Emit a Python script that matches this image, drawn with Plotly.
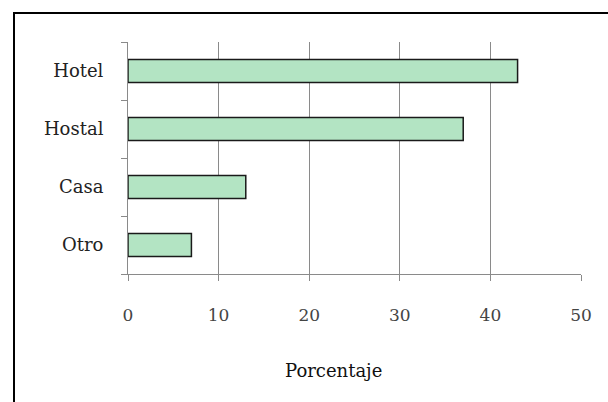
import plotly.graph_objects as go

# Lugar de hospedaje (porcentaje)
categorias = ["Hotel", "Hostal", "Casa", "Otro"]
porcentajes = [43, 37, 13, 7]
ticks_x = [0, 10, 20, 30, 40, 50]

W, H = 608, 402
L, R, T, B = 128, 27, 42, 128
pw, ph = W - L - R, H - T - B


def px_x(p):
    return (p - L) / pw


def px_y(p):
    return (H - B - p) / ph


serif = "DejaVu Serif"

fig = go.Figure(
    go.Bar(
        x=porcentajes,
        y=categorias,
        orientation="h",
        width=0.4,
        marker=dict(color="#b3e4c3", line=dict(color="#1a1a1a", width=1.5)),
    )
)

fig.update_layout(
    width=W,
    height=H,
    margin=dict(l=L, r=R, t=T, b=B),
    paper_bgcolor="white",
    plot_bgcolor="white",
    showlegend=False,
    font=dict(family=serif, size=17, color="#222"),
    xaxis=dict(
        range=[0, 50],
        tickvals=ticks_x,
        showgrid=True,
        gridcolor="#8a8a8a",
        gridwidth=1,
        zeroline=False,
        showline=True,
        linecolor="#8a8a8a",
        linewidth=1,
        ticks="outside",
        ticklen=6,
        tickcolor="#8a8a8a",
        ticklabelstandoff=20,
        tickfont=dict(family=serif, size=17, color="#444"),
        fixedrange=True,
    ),
    yaxis=dict(
        categoryorder="array",
        categoryarray=categorias[::-1],
        showgrid=False,
        zeroline=False,
        showline=True,
        linecolor="#8a8a8a",
        linewidth=1,
        ticks="outside",
        tickson="boundaries",
        ticklen=6,
        tickcolor="#8a8a8a",
        ticklabelstandoff=20,
        tickfont=dict(family=serif, size=18, color="#222"),
        fixedrange=True,
    ),
    shapes=[
        dict(
            type="rect",
            xref="paper",
            yref="paper",
            x0=px_x(14),
            x1=px_x(630),
            y0=px_y(430),
            y1=px_y(13),
            line=dict(color="black", width=2),
            layer="below",
        )
    ],
    annotations=[
        dict(
            text="Porcentaje",
            xref="paper",
            yref="paper",
            x=px_x(333),
            y=px_y(370),
            xanchor="center",
            yanchor="middle",
            showarrow=False,
            font=dict(family=serif, size=18, color="#111"),
        )
    ],
)

fig.write_html("out.html")
